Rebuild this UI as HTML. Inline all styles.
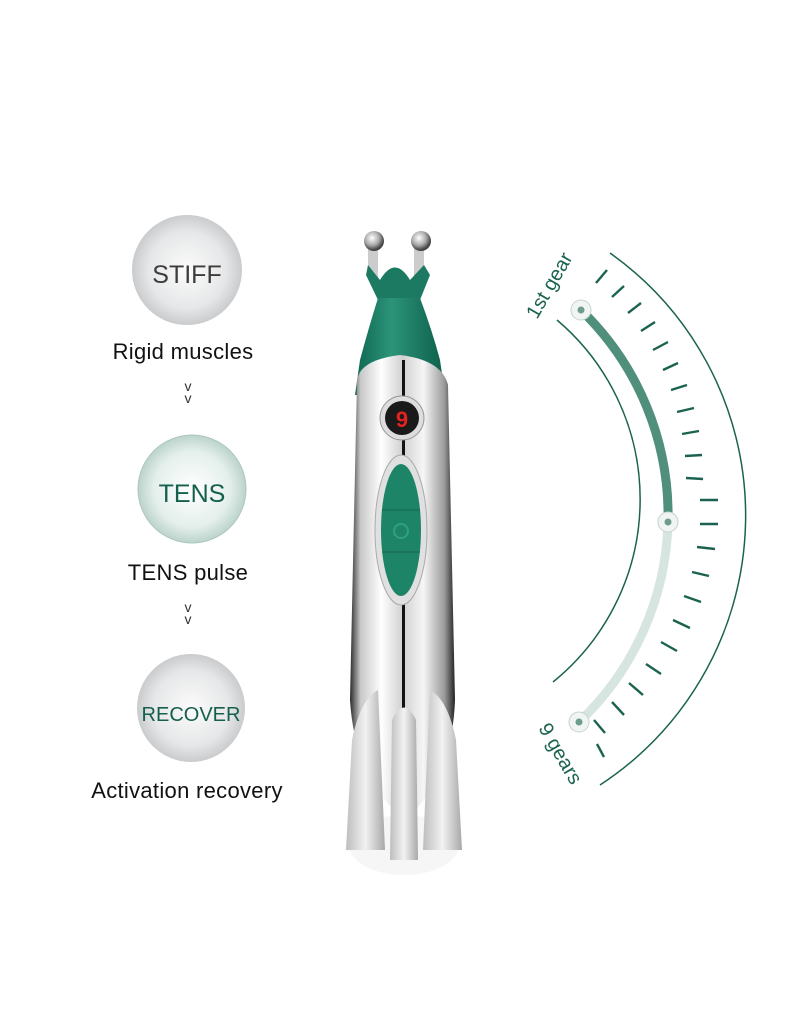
<!DOCTYPE html>
<html><head><meta charset="utf-8"><style>
html,body{margin:0;padding:0;background:#fff;}
svg{display:block}
text{font-family:"Liberation Sans",sans-serif;}
</style></head><body>
<svg width="800" height="1034" viewBox="0 0 800 1034" xmlns="http://www.w3.org/2000/svg">
<defs>
<radialGradient id="gs" cx="50%" cy="50%" r="50%"><stop offset="0%" stop-color="#fbfbfb"/><stop offset="70%" stop-color="#e6e7e8"/><stop offset="100%" stop-color="#c9cbcd"/></radialGradient>
<radialGradient id="gt" cx="50%" cy="50%" r="50%"><stop offset="0%" stop-color="#ffffff"/><stop offset="70%" stop-color="#e4efec"/><stop offset="100%" stop-color="#bcd3cc"/></radialGradient>
<linearGradient id="silver" x1="0" x2="1"><stop offset="0" stop-color="#2a2a2a"/><stop offset="0.1" stop-color="#c8c8c8"/><stop offset="0.3" stop-color="#ffffff"/><stop offset="0.5" stop-color="#d0d0d0"/><stop offset="0.7" stop-color="#f6f6f6"/><stop offset="0.9" stop-color="#9a9a9a"/><stop offset="1" stop-color="#222"/></linearGradient>
<linearGradient id="green" x1="0" x2="1"><stop offset="0" stop-color="#0f6650"/><stop offset="0.4" stop-color="#2b9479"/><stop offset="1" stop-color="#0e5f4a"/></linearGradient>
<linearGradient id="fin" x1="0" x2="1"><stop offset="0" stop-color="#bdbdbd"/><stop offset="0.5" stop-color="#f2f2f2"/><stop offset="1" stop-color="#a8a8a8"/></linearGradient>
<radialGradient id="ball" cx="40%" cy="35%" r="60%"><stop offset="0" stop-color="#fff"/><stop offset="0.6" stop-color="#aaa"/><stop offset="1" stop-color="#444"/></radialGradient>
</defs>

<!-- left column -->
<circle cx="187" cy="270" r="55" fill="url(#gs)"/>
<text x="187" y="283" font-size="25" fill="#3c3c3c" text-anchor="middle">STIFF</text>
<text x="183" y="359" font-size="22" fill="#111" text-anchor="middle" letter-spacing="0.3">Rigid muscles</text>
<text x="188" y="391" font-size="14" fill="#333" text-anchor="middle">v</text>
<text x="188" y="403" font-size="14" fill="#333" text-anchor="middle">v</text>

<circle cx="192" cy="489" r="54" fill="url(#gt)" stroke="#a9c6bd" stroke-width="1"/>
<text x="192" y="502" font-size="25" fill="#15604d" text-anchor="middle">TENS</text>
<text x="188" y="580" font-size="22" fill="#111" text-anchor="middle" letter-spacing="0.3">TENS pulse</text>
<text x="188" y="612" font-size="14" fill="#333" text-anchor="middle">v</text>
<text x="188" y="624" font-size="14" fill="#333" text-anchor="middle">v</text>

<circle cx="191" cy="708" r="54" fill="url(#gs)"/>
<text x="191" y="721" font-size="20" fill="#15604d" text-anchor="middle">RECOVER</text>
<text x="187" y="798" font-size="22" fill="#111" text-anchor="middle" letter-spacing="0.3">Activation recovery</text>

<!-- device -->
<ellipse cx="404" cy="845" rx="55" ry="30" fill="#f2f2f2" opacity="0.7"/>
<rect x="368" y="245" width="10" height="35" fill="#ccc"/>
<rect x="414" y="245" width="10" height="35" fill="#ccc"/>
<circle cx="374" cy="241" r="10" fill="url(#ball)"/>
<circle cx="421" cy="241" r="10" fill="url(#ball)"/>
<path d="M368 265 L380 280 Q395 255 410 280 L424 265 L430 275 Q420 300 420 300 L378 300 L366 275Z" fill="#1d7a62"/>
<path d="M378 298 L420 298 Q432 330 440 360 L445 395 L355 395 L360 360 Q368 330 378 298Z" fill="url(#green)"/>
<path d="M357 380 Q360 360 400 355 Q442 360 448 385 L455 700 Q452 780 405 820 Q355 780 350 700Z" fill="url(#silver)"/>
<rect x="402" y="360" width="3" height="460" fill="#111"/>
<circle cx="402" cy="418" r="22" fill="#ddd" stroke="#999"/>
<circle cx="402" cy="418" r="17" fill="#1a1a1a"/>
<text x="402" y="427" font-size="22" font-family="Liberation Mono" fill="#e52222" text-anchor="middle" font-weight="bold">9</text>
<ellipse cx="401" cy="530" rx="26" ry="75" fill="#e0e0e0" stroke="#aaa"/>
<ellipse cx="401" cy="530" rx="20" ry="66" fill="#1e8468"/>
<line x1="382" y1="510" x2="420" y2="510" stroke="#156650"/>
<line x1="382" y1="552" x2="420" y2="552" stroke="#156650"/>
<circle cx="401" cy="531" r="7" fill="none" stroke="#2fa083" stroke-width="2"/>
<path d="M346 850 L352 740 Q360 700 378 690 L385 850Z" fill="url(#fin)"/>
<path d="M462 850 L456 740 Q448 700 430 690 L423 850Z" fill="url(#fin)"/>
<path d="M390 860 L392 720 Q404 695 416 720 L418 860Z" fill="url(#fin)"/>

<!-- gear arcs -->
<path d="M610 253 A322 322 0 0 1 600 785" fill="none" stroke="#1b6350" stroke-width="1.5"/>
<path d="M557 320 A235 235 0 0 1 553 682" fill="none" stroke="#1b6350" stroke-width="1.5"/>
<g stroke="#1b6350" stroke-width="2.4">
<line x1="596" y1="283" x2="607" y2="270"/>
<line x1="612" y1="297" x2="624" y2="286"/>
<line x1="628" y1="313" x2="641" y2="303"/>
<line x1="641" y1="331" x2="655" y2="322"/>
<line x1="653" y1="350" x2="668" y2="342"/>
<line x1="663" y1="370" x2="678" y2="363"/>
<line x1="671" y1="390" x2="687" y2="385"/>
<line x1="677" y1="412" x2="694" y2="408"/>
<line x1="682" y1="434" x2="699" y2="431"/>
<line x1="685" y1="456" x2="702" y2="455"/>
<line x1="686" y1="478" x2="703" y2="479"/>
<line x1="700" y1="500" x2="718" y2="500"/>
<line x1="700" y1="524" x2="718" y2="524"/>
<line x1="697" y1="547" x2="715" y2="549"/>
<line x1="692" y1="572" x2="709" y2="576"/>
<line x1="684" y1="596" x2="701" y2="602"/>
<line x1="673" y1="620" x2="690" y2="628"/>
<line x1="661" y1="642" x2="677" y2="651"/>
<line x1="646" y1="664" x2="661" y2="674"/>
<line x1="629" y1="683" x2="643" y2="695"/>
<line x1="612" y1="702" x2="624" y2="715"/>
<line x1="594" y1="720" x2="605" y2="733"/>
<line x1="597" y1="744" x2="604" y2="757"/>
</g>
<path d="M581 310 A285 285 0 0 1 668 522" fill="none" stroke="#4f8f7c" stroke-width="9" stroke-linecap="round"/>
<path d="M668 522 A285 285 0 0 1 579 722" fill="none" stroke="#d7e5e0" stroke-width="9" stroke-linecap="round"/>
<g fill="#f0f4f2" stroke="#c5d3ce"><circle cx="581" cy="310" r="10"/><circle cx="668" cy="522" r="10"/><circle cx="579" cy="722" r="10"/></g>
<g fill="#6f9c8e"><circle cx="581" cy="310" r="3.5"/><circle cx="668" cy="522" r="3.5"/><circle cx="579" cy="722" r="3.5"/></g>
<text transform="translate(537,320) rotate(-60)" font-size="20" fill="#1b6350">1st gear</text>
<text transform="translate(538,728) rotate(60)" font-size="20" fill="#1b6350">9 gears</text>
</svg>
</body></html>
